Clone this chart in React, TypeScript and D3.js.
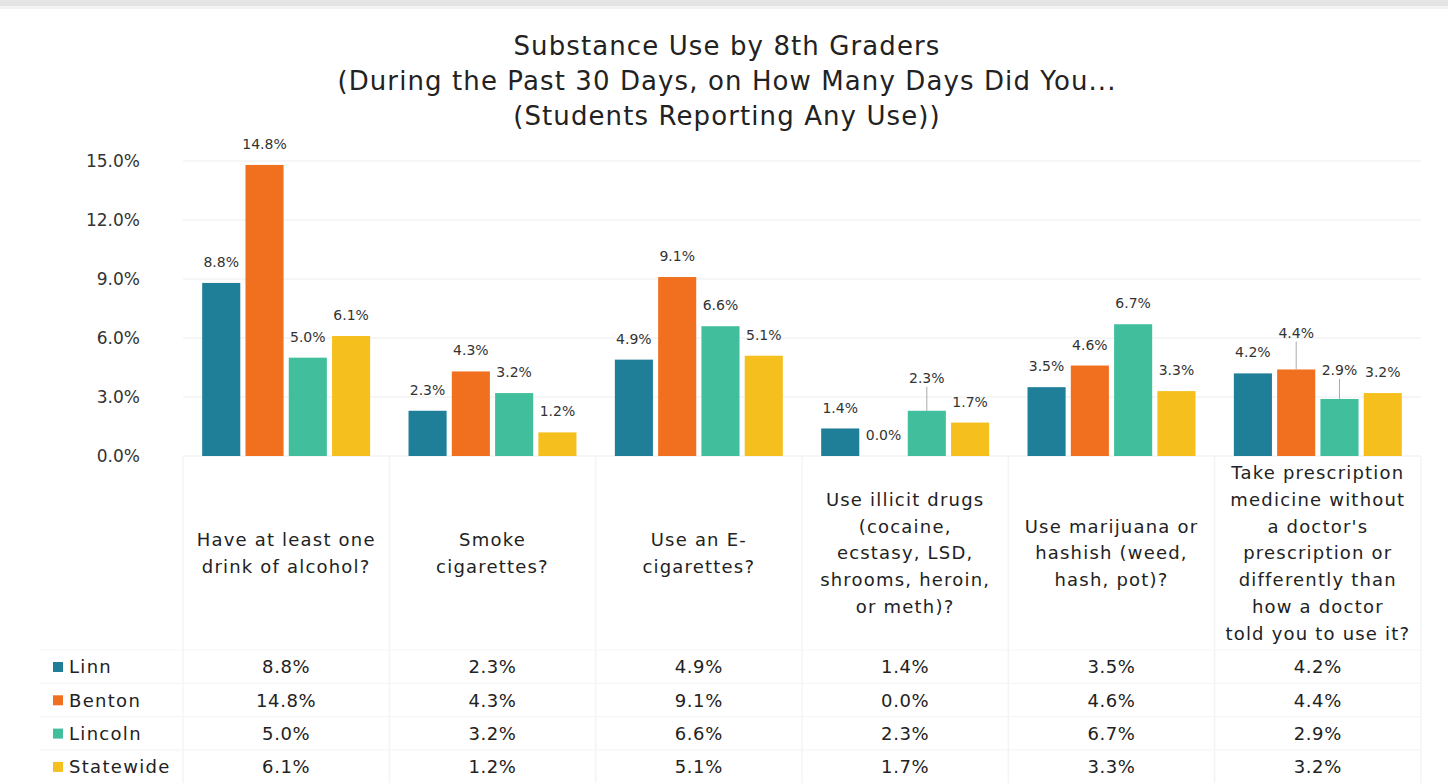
import React from "react";
import * as d3 from "d3";

const categories: string[][] = [
  ["Have at least one", "drink of alcohol?"],
  ["Smoke", "cigarettes?"],
  ["Use an E-", "cigarettes?"],
  ["Use illicit drugs", "(cocaine,", "ecstasy, LSD,", "shrooms, heroin,", "or meth)?"],
  ["Use marijuana or", "hashish (weed,", "hash, pot)?"],
  ["Take prescription", "medicine without", "a doctor's", "prescription or", "differently than", "how a doctor", "told you to use it?"],
];
const seriesNames = ["Linn", "Benton", "Lincoln", "Statewide"];
const linn = [8.8, 2.3, 4.9, 1.4, 3.5, 4.2];
const benton = [14.8, 4.3, 9.1, 0.0, 4.6, 4.4];
const lincoln = [5.0, 3.2, 6.6, 2.3, 6.7, 2.9];
const statewide = [6.1, 1.2, 5.1, 1.7, 3.3, 3.2];
const yTicks = [0, 3, 6, 9, 12, 15];
const titleLines = [
  "Substance Use by 8th Graders",
  "(During the Past 30 Days, on How Many Days Did You...",
  "(Students Reporting Any Use))",
];
const colors = ["#1f7e98", "#f07020", "#41bf9c", "#f5bf1e"];
// labels that Excel moved up with a leader line: key "series-category" -> extra lift (px)
const leaderLift: Record<string, number> = { "2-3": 12, "1-5": 16, "2-5": 8 };

const FONT = "'DejaVu Sans', sans-serif";

export default function App() {
  const W = 1448, H = 783;
  const series = [linn, benton, lincoln, statewide];
  const idx = categories.map((_, i) => i);
  const x0 = d3.scaleBand<number>().domain(idx).range([183, 1421]).paddingInner(0.186).paddingOuter(0.093);
  const x1 = d3.scaleBand<number>().domain(seriesNames.map((_, i) => i)).range([0, x0.bandwidth()]).paddingInner(0.12);
  const y = d3.scaleLinear().domain([0, 15]).range([456, 161]);
  const step = x0.step();
  const left = 183;
  const right = 1421;
  const rowY = (r: number) => 667 + r * 33.3;
  const fmt = (v: number) => v.toFixed(1) + "%";

  return (
    <div style={{ position: "absolute", left: 0, top: 0 }}>
      <svg width={W} height={H} style={{ display: "block", background: "#fff" }} fontFamily={FONT}>
        <rect x={0} y={0} width={W} height={6} fill="#e4e4e4" />
        <rect x={0} y={6} width={W} height={3} fill="#f3f3f3" />
        {titleLines.map((t, i) => (
          <text key={i} x={727} y={55 + i * 35} textAnchor="middle" fontSize={26} letterSpacing={1.1} fill="#222">{t}</text>
        ))}
        {/* gridlines */}
        {yTicks.map((t) => (
          <line key={t} x1={left} x2={right} y1={y(t)} y2={y(t)} stroke="#f3f3f3" strokeWidth={1.5} />
        ))}
        {yTicks.map((t) => (
          <text key={"yt" + t} x={140} y={y(t)} dy="0.36em" textAnchor="end" fontSize={17} fill="#333">{fmt(t)}</text>
        ))}
        {/* table grid */}
        {d3.range(7).map((i) => (
          <line key={"tv" + i} x1={left + i * step} x2={left + i * step} y1={456} y2={783} stroke="#f4f4f4" strokeWidth={1.5} />
        ))}
        {d3.range(4).map((r) => (
          <line key={"th" + r} x1={40} x2={right} y1={rowY(r) - 17} y2={rowY(r) - 17} stroke="#f6f6f6" strokeWidth={1.2} />
        ))}
        {/* bars */}
        {series.map((s, si) =>
          s.map((v, ci) => (
            <rect key={si + "-" + ci} x={(x0(ci) as number) + (x1(si) as number)} y={y(v)} width={x1.bandwidth()} height={y(0) - y(v)} fill={colors[si]} />
          ))
        )}
        {/* data labels */}
        {series.map((s, si) =>
          s.map((v, ci) => {
            const cx = (x0(ci) as number) + (x1(si) as number) + x1.bandwidth() / 2;
            const lift = leaderLift[si + "-" + ci] || 0;
            const ly = y(v) - 21 - lift;
            return (
              <g key={"l" + si + "-" + ci}>
                {lift > 0 && (
                  <line x1={cx} x2={cx} y1={ly + 9} y2={y(v)} stroke="#aaa" strokeWidth={1} />
                )}
                <text x={cx} y={ly} dy="0.36em" textAnchor="middle" fontSize={14} fill="#333">{fmt(v)}</text>
              </g>
            );
          })
        )}
        {/* category labels */}
        {categories.map((lines, ci) => {
          const cx = (x0(ci) as number) + x0.bandwidth() / 2;
          const lh = 26.7;
          const y0 = 553 - ((lines.length - 1) * lh) / 2;
          return (
            <text key={"c" + ci} textAnchor="middle" fontSize={18} letterSpacing={1.2} fill="#222">
              {lines.map((ln, li) => (
                <tspan key={li} x={cx} y={y0 + li * lh} dy="0.36em">{ln}</tspan>
              ))}
            </text>
          );
        })}
        {/* table rows */}
        {series.map((s, si) => (
          <g key={"row" + si}>
            <rect x={53} y={rowY(si) - 5} width={10} height={10} fill={colors[si]} />
            <text x={69} y={rowY(si)} dy="0.36em" fontSize={18} letterSpacing={1.3} fill="#222">{seriesNames[si]}</text>
            {s.map((v, ci) => (
              <text key={ci} x={(x0(ci) as number) + x0.bandwidth() / 2} y={rowY(si)} dy="0.36em" textAnchor="middle" fontSize={18} letterSpacing={0.6} fill="#222">{fmt(v)}</text>
            ))}
          </g>
        ))}
      </svg>
    </div>
  );
}
